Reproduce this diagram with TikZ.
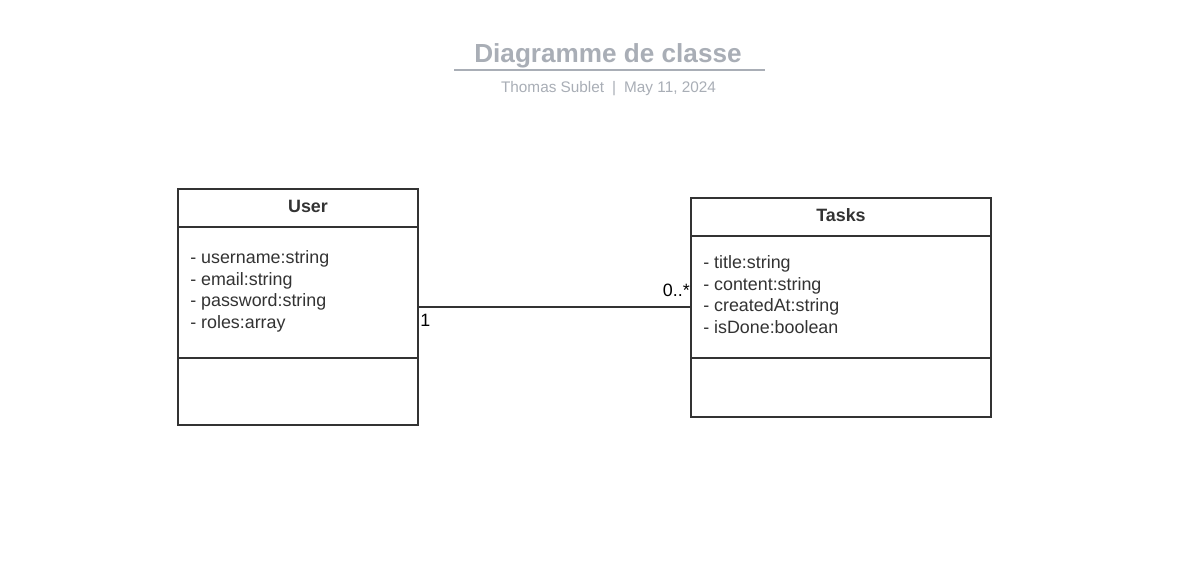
\documentclass[tikz,border=0pt]{standalone}
\usepackage{fontspec}
\setmainfont{Liberation Sans}
\definecolor{titlegray}{HTML}{A9AEB6}
\definecolor{ink}{HTML}{333333}
\begin{document}
\begin{tikzpicture}[x=0.75pt,y=-0.75pt,
  classbox/.style={draw=ink,line width=1.5pt,inner sep=0pt,fill=white},
  sep/.style={draw=ink,line width=1.5pt},
  attr/.style={anchor=base west,inner sep=0pt,text=ink,font=\fontsize{13.4pt}{16pt}\selectfont},
  head/.style={anchor=base,inner sep=0pt,text=ink,font=\bfseries\fontsize{13.4pt}{16pt}\selectfont},
  mult/.style={inner sep=0pt,text=black,font=\fontsize{13.4pt}{16pt}\selectfont},
  conn/.style={draw=ink,line width=1.2pt}]
\useasboundingbox[fill=white] (0,0) rectangle (1199,578);
% title
\node[anchor=base,inner sep=0pt,text=titlegray,font=\bfseries\fontsize{19.6pt}{22pt}\selectfont] (title) at (608,62) {Diagramme de classe};
\coordinate (tl) at (454,70);
\coordinate (tr) at (765,70);
\draw[draw=titlegray,line width=1.5pt] (tl) -- (tr);
\node[anchor=base,inner sep=0pt,text=titlegray,font=\fontsize{11.5pt}{14pt}\selectfont] (subtitle) at (608.5,92) {Thomas Sublet\hspace{6pt}|\hspace{6pt}May 11, 2024};
% User class
\node[classbox,minimum width=180pt,minimum height=177pt] (user) at (298,307) {};
\coordinate (u1l) at (178,227); \coordinate (u1r) at (418,227);
\coordinate (u2l) at (178,358); \coordinate (u2r) at (418,358);
\draw[sep] (u1l) -- (u1r);
\draw[sep] (u2l) -- (u2r);
\node[head] (userhead) at (308,212) {User};
\node[attr] (ua1) at (190,263) {- username:string};
\node[attr] (ua2) at (190,285) {- email:string};
\node[attr] (ua3) at (190,306) {- password:string};
\node[attr] (ua4) at (190,328) {- roles:array};
% Tasks class
\node[classbox,minimum width=225pt,minimum height=164.25pt] (tasks) at (841,307.5) {};
\coordinate (t1l) at (691,236); \coordinate (t1r) at (991,236);
\coordinate (t2l) at (691,358); \coordinate (t2r) at (991,358);
\draw[sep] (t1l) -- (t1r);
\draw[sep] (t2l) -- (t2r);
\node[head] (taskshead) at (841,221) {Tasks};
\node[attr] (ta1) at (703,268) {- title:string};
\node[attr] (ta2) at (703,290) {- content:string};
\node[attr] (ta3) at (703,311) {- createdAt:string};
\node[attr] (ta4) at (703,333) {- isDone:boolean};
% association
\draw[conn] (user.east) -- (user.east -| tasks.west);
\node[mult,anchor=base west] (m1) at (420,326) {1};
\node[mult,anchor=base east] (m2) at (690,296) {0..*};
\end{tikzpicture}
\end{document}
